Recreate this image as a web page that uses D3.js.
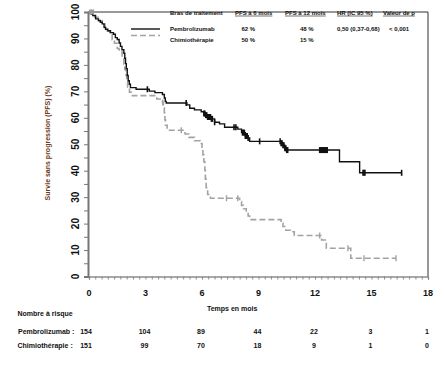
<!DOCTYPE html>
<html><head><meta charset="utf-8">
<script src="https://cdn.jsdelivr.net/npm/d3@7"></script>
<style>
html,body{margin:0;padding:0;background:#fff;}
svg{display:block;font-family:"Liberation Sans",Arial,sans-serif;}
</style></head>
<body>
<svg id="chart" width="445" height="370"></svg>
<script>
// ---------- DATA ----------
const xTicks = [0, 3, 6, 9, 12, 15, 18];
const yTicks = [0, 10, 20, 30, 40, 50, 60, 70, 80, 90, 100];
const seriesNames = ["Pembrolizumab", "Chimiothérapie"];

// Kaplan-Meier steps: [time (months), survival (%)]
const pembroSteps = [[0,100],[0.1,99.3],[0.2,98.7],[0.35,97.4],[0.5,96.8],[0.6,96.1],[0.7,95.5],[0.8,94.2],[0.88,93.5],[1.0,92.9],[1.14,92.2],[1.3,91.6],[1.4,90.3],[1.5,89.6],[1.6,88.3],[1.67,87.0],[1.75,85.7],[1.85,84.4],[1.9,82.5],[1.94,80.5],[1.98,78.6],[2.03,76.0],[2.08,74.0],[2.14,72.7],[2.2,71.4],[2.5,70.8],[3.2,70.1],[3.5,69.5],[3.9,68.8],[4.0,67.5],[4.05,66.2],[4.1,65.6],[5.2,64.9],[5.35,63.6],[5.6,63.0],[5.96,62.3],[6.1,61.6],[6.2,61.0],[6.3,60.3],[6.5,59.6],[6.67,58.3],[6.93,57.7],[7.2,56.4],[7.9,55.7],[8.1,54.4],[8.3,53.1],[8.44,52.4],[8.53,51.1],[10.2,50.4],[10.3,49.6],[10.4,48.5],[10.48,47.8],[13.3,43.4],[14.37,39.2],[16.6,39.2]];
const pembroCensor = [3.1,5.16,6.1,6.15,6.2,6.25,6.3,6.35,6.4,6.45,6.5,6.55,6.67,7.7,7.8,8.15,8.2,8.25,8.3,8.35,8.4,8.45,9.06,10.15,10.2,10.25,10.3,10.35,10.4,10.45,10.5,10.55,12.25,12.3,12.35,12.4,12.45,12.5,12.55,12.6,12.65,14.55,14.6,14.65,16.6];

const chemoSteps = [[0,100],[0.15,99.3],[0.3,98.0],[0.5,96.7],[0.7,95.4],[0.85,94.1],[0.97,92.8],[1.1,91.5],[1.23,89.5],[1.35,88.2],[1.5,86.2],[1.6,84.9],[1.76,82.9],[1.85,80.3],[1.9,78.3],[1.95,76.3],[2.0,73.7],[2.05,71.7],[2.15,69.7],[2.3,68.4],[3.6,67.1],[3.9,65.8],[3.95,63.8],[4.0,61.8],[4.03,59.2],[4.06,57.2],[4.15,55.3],[5.1,53.9],[5.3,52.6],[5.6,51.3],[5.9,50.3],[6.0,48.4],[6.05,46.0],[6.1,43.4],[6.15,40.1],[6.18,36.8],[6.22,33.6],[6.3,31.0],[6.45,29.6],[8.0,28.3],[8.1,26.9],[8.2,25.6],[8.35,24.2],[8.45,22.9],[8.53,21.5],[10.2,20.2],[10.3,18.9],[10.45,17.5],[10.7,16.9],[10.9,15.5],[12.35,13.8],[12.6,10.7],[13.9,6.9],[16.3,6.9]];
const chemoCensor = [3.92,4.9,7.3,7.9,12.25,13.75,14.6,16.3];

const riskPembro = [154, 104, 89, 44, 22, 3, 1];
const riskChemo = [151, 99, 70, 18, 9, 1, 0];

const legendHeaders = ["Bras de traitement", "PFS à 6 mois", "PFS à 12 mois", "HR (IC 95 %)", "Valeur de p"];
const legendPembro = ["Pembrolizumab", "62 %", "48 %", "0,50 (0,37-0,68)", "< 0,001"];
const legendChemo = ["Chimiothérapie", "50 %", "15 %", "", ""];

// ---------- CHART ----------
const svg = d3.select("#chart");
const x = d3.scaleLinear().domain([0, 18]).range([89, 428]);
const y = d3.scaleLinear().domain([0, 100]).range([276.5, 12]);

// frame top / right
svg.append("path")
  .attr("d", `M${x(0)-1},${y(100)}H${x(18)}V${y(0)}`)
  .attr("fill", "none").attr("stroke", "#333").attr("stroke-width", 1);

// Y axis
const yAxis = d3.axisLeft(y).tickValues(d3.range(0, 101, 5)).tickSize(4).tickFormat("");
const gy = svg.append("g").attr("transform", `translate(${x(0)-1},0)`).call(yAxis);
gy.select(".domain").attr("stroke", "#777").attr("stroke-width", 2);
gy.selectAll(".tick line").attr("stroke", "#777");
svg.append("g").selectAll("text").data(yTicks).join("text")
  .attr("transform", d => `translate(79,${y(d)}) rotate(-90)`)
  .attr("text-anchor", "middle")
  .attr("font-size", 10).attr("font-weight", "bold").attr("fill", "#111")
  .text(d => d);

// X axis
const xAxis = d3.axisBottom(x).tickValues(d3.range(0, 55).map(i => i / 3)).tickSize(3).tickFormat("");
const gx = svg.append("g").attr("transform", `translate(0,${y(0)})`).call(xAxis);
gx.select(".domain").attr("stroke", "#555").attr("stroke-width", 1.2);
gx.selectAll(".tick line").attr("stroke", "#888");
svg.append("g").selectAll("text").data(xTicks).join("text")
  .attr("x", d => x(d)).attr("y", 296)
  .attr("text-anchor", "middle")
  .attr("font-size", 9).attr("font-weight", "bold").attr("fill", "#111")
  .text(d => d);

// axis titles
svg.append("text").attr("x", x(7.6)).attr("y", 310.5).attr("text-anchor", "middle")
  .attr("font-size", 7).attr("font-weight", "bold").attr("fill", "#111").text("Temps en mois");
svg.append("text").attr("transform", "translate(50,143) rotate(-90)").attr("text-anchor", "middle")
  .attr("font-size", 7).attr("font-weight", "bold").attr("fill", "#6b3a1a")
  .text("Survie sans progression (PFS) (%)");

// curves
const line = d3.line().x(d => x(d[0])).y(d => y(d[1])).curve(d3.curveStepAfter);
function survAt(steps, t) {
  let v = steps[0][1];
  for (const s of steps) { if (s[0] <= t) v = s[1]; }
  return v;
}
svg.append("path").datum(chemoSteps).attr("d", line)
  .attr("fill", "none").attr("stroke", "#a3a3a3").attr("stroke-width", 1.6).attr("stroke-dasharray", "6,3");
svg.append("path").datum(pembroSteps).attr("d", line)
  .attr("fill", "none").attr("stroke", "#111").attr("stroke-width", 1.4);

svg.append("g").selectAll("line").data(chemoCensor).join("line")
  .attr("x1", d => x(d)).attr("x2", d => x(d))
  .attr("y1", d => y(survAt(chemoSteps, d)) - 3).attr("y2", d => y(survAt(chemoSteps, d)) + 3)
  .attr("stroke", "#a3a3a3").attr("stroke-width", 1.4);
svg.append("g").selectAll("line").data(pembroCensor).join("line")
  .attr("x1", d => x(d)).attr("x2", d => x(d))
  .attr("y1", d => y(survAt(pembroSteps, d)) - 3).attr("y2", d => y(survAt(pembroSteps, d)) + 3)
  .attr("stroke", "#111").attr("stroke-width", 1.6);

// start marker
svg.append("rect").attr("x", x(0)).attr("y", y(100) - 2.5).attr("width", 5).attr("height", 5).attr("fill", "#999");

// legend
const lg = svg.append("g").attr("font-size", 6).attr("font-weight", "bold").attr("fill", "#111");
lg.append("line").attr("x1", 131).attr("x2", 160).attr("y1", 29).attr("y2", 29).attr("stroke", "#111").attr("stroke-width", 1.4);
lg.append("line").attr("x1", 131).attr("x2", 160).attr("y1", 35.5).attr("y2", 35.5).attr("stroke", "#a3a3a3").attr("stroke-width", 1.4).attr("stroke-dasharray", "6,3");
const colX = [170, 235, 285, 337, 383];
const valX = [170, 241.5, 300, 337, 389];
legendHeaders.forEach((h, i) => {
  const t = lg.append("text").attr("x", colX[i]).attr("y", 14.5).text(h);
  if (i > 0) {
    const w = t.node().getComputedTextLength();
    lg.append("line").attr("x1", colX[i]).attr("x2", colX[i] + w).attr("y1", 16).attr("y2", 16)
      .attr("stroke", "#111").attr("stroke-width", 0.6);
  }
});
legendPembro.forEach((v, i) => lg.append("text").attr("x", valX[i]).attr("y", 31).text(v));
legendChemo.forEach((v, i) => lg.append("text").attr("x", valX[i]).attr("y", 41.5).text(v));

// number at risk
const rk = svg.append("g").attr("font-size", 7).attr("font-weight", "bold").attr("fill", "#111");
rk.append("text").attr("x", 17.5).attr("y", 316).text("Nombre à risque");
rk.append("text").attr("x", 18).attr("y", 334).text("Pembrolizumab :");
rk.append("text").attr("x", 17.5).attr("y", 348).text("Chimiothérapie :");
[[riskPembro, 334], [riskChemo, 348]].forEach(([arr, yy]) => {
  rk.append("g").selectAll("text").data(arr).join("text")
    .attr("x", (d, i) => i === 0 ? 86 : x(xTicks[i]) - 1)
    .attr("y", yy)
    .attr("text-anchor", "middle")
    .text(d => d);
});
</script>
</body></html>
